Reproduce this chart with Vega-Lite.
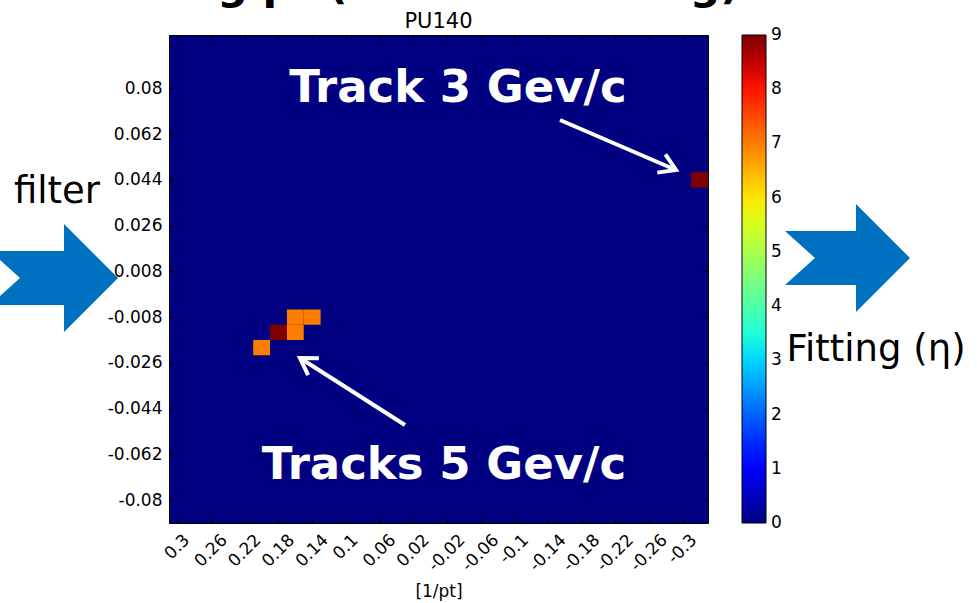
{
  "$schema": "https://vega.github.io/schema/vega-lite/v6.json",
  "width": 539,
  "height": 488,
  "autosize": {"type": "none"},
  "padding": {"left": 169, "top": 35, "right": 269, "bottom": 80},
  "background": "white",
  "view": {"fill": "#000080", "stroke": "#000000", "strokeWidth": 1},
  "config": {"font": "DejaVu Sans"},
  "datasets": {
    "cells": [
      {"invPtFrom": 0.21, "invPtTo": 0.19, "yFrom": -0.0177778, "yTo": -0.0237037, "count": 7},
      {"invPtFrom": 0.19, "invPtTo": 0.17, "yFrom": -0.0118519, "yTo": -0.0177778, "count": 9},
      {"invPtFrom": 0.17, "invPtTo": 0.15, "yFrom": -0.0118519, "yTo": -0.0177778, "count": 7},
      {"invPtFrom": 0.17, "invPtTo": 0.15, "yFrom": -0.0059259, "yTo": -0.0118519, "count": 7},
      {"invPtFrom": 0.15, "invPtTo": 0.13, "yFrom": -0.0059259, "yTo": -0.0118519, "count": 7},
      {"invPtFrom": -0.31, "invPtTo": -0.33, "yFrom": 0.0474074, "yTo": 0.0414815, "count": 9}
    ]
  },
  "layer": [
    {
      "data": {"name": "cells"},
      "mark": {"type": "rect", "strokeWidth": 0},
      "encoding": {
        "x": {"field": "invPtFrom", "type": "quantitative",
          "scale": {"domain": [-0.33, 0.31], "reverse": true, "nice": false, "zero": false},
          "axis": {"orient": "bottom", "values": [0.3, 0.26, 0.22, 0.18, 0.14, 0.1, 0.06, 0.02, -0.02, -0.06, -0.1, -0.14, -0.18, -0.22, -0.26, -0.3],
            "labelExpr": "'' + round(datum.value*100)/100",
            "labelAngle": -45, "labelAlign": "right", "labelBaseline": "middle",
            "labelOffset": {"condition": [
              {"test": "datum.value == 0.3 || datum.value == 0.1", "value": 9},
              {"test": "datum.value == -0.3 || datum.value == -0.1", "value": 11},
              {"test": "datum.value < 0", "value": 15}], "value": 13},
            "labelPadding": 19,
            "labelFont": "DejaVu Sans", "labelFontSize": 17, "labelColor": "#000000", "labelOverlap": false, "labelFlush": false, "labelBound": false,
            "tickSize": -5, "tickColor": "#000000", "tickWidth": 1, "domain": false, "grid": false,
            "title": "[1/pt]", "titleFont": "DejaVu Sans", "titleFontSize": 17, "titleFontWeight": "normal", "titleColor": "#000000",
            "titleBaseline": "alphabetic", "titleY": 73}},
        "x2": {"field": "invPtTo"},
        "y": {"field": "yFrom", "type": "quantitative",
          "scale": {"domain": [-0.0888889, 0.1007407], "nice": false, "zero": false},
          "axis": {"orient": "left", "values": [0.08, 0.0622222, 0.0444444, 0.0266667, 0.0088889, -0.0088889, -0.0266667, -0.0444444, -0.0622222, -0.08],
            "labelExpr": "'' + (datum.value < 0 ? -1 : 1) * floor(abs(datum.value)*1000 + 0.0001)/1000",
            "labelFont": "DejaVu Sans", "labelFontSize": 17, "labelColor": "#000000", "labelPadding": 12, "labelOverlap": false, "labelFlush": false,
            "tickSize": -5, "tickColor": "#000000", "domain": false, "grid": false, "title": null}},
        "y2": {"field": "yTo"},
        "color": {"field": "count", "type": "quantitative",
          "scale": {"domain": [0, 0.99, 1.125, 3.06, 3.15, 3.375, 5.76, 5.85, 5.94, 8.01, 8.19, 9],
            "range": ["#000080", "#0000ff", "#0000ff", "#00dbff", "#00e6f7", "#15ffe2", "#efff08", "#f7f500", "#ffec00", "#ff1300", "#e80000", "#800000"],
            "interpolate": "rgb"},
          "legend": {"orient": "none", "legendX": 573, "legendY": 0, "direction": "vertical", "title": null,
            "gradientLength": 488, "gradientThickness": 24, "gradientStrokeColor": "#000000", "gradientStrokeWidth": 1,
            "values": [0, 1, 2, 3, 4, 5, 6, 7, 8, 9], "labelFont": "DejaVu Sans", "labelFontSize": 17, "labelColor": "#000000",
            "labelOffset": 5, "padding": 0, "labelOverlap": false,
            "encode": {"labels": {"update": {"baseline": {"value": "middle"}}}}}}
      }
    },
    {
      "data": {"name": "cells"},
      "mark": {"type": "rect", "opacity": 0},
      "encoding": {
        "x": {"field": "invPtFrom", "type": "quantitative",
          "scale": {"domain": [-0.33, 0.31], "reverse": true, "nice": false, "zero": false},
          "axis": {"orient": "top", "values": [0.3, 0.26, 0.22, 0.18, 0.14, 0.1, 0.06, 0.02, -0.02, -0.06, -0.1, -0.14, -0.18, -0.22, -0.26, -0.3],
            "labels": false, "tickSize": -5, "tickColor": "#000000", "domain": false, "grid": false, "title": null}},
        "x2": {"field": "invPtTo"},
        "y": {"field": "yFrom", "type": "quantitative",
          "scale": {"domain": [-0.0888889, 0.1007407], "nice": false, "zero": false},
          "axis": {"orient": "right", "values": [0.08, 0.0622222, 0.0444444, 0.0266667, 0.0088889, -0.0088889, -0.0266667, -0.0444444, -0.0622222, -0.08],
            "labels": false, "tickSize": -5, "tickColor": "#000000", "domain": false, "grid": false, "title": null}},
        "y2": {"field": "yTo"}
      }
    },
    {
      "data": {"values": [{"label": "PU140"}]},
      "mark": {"type": "text", "font": "DejaVu Sans", "fontSize": 21, "color": "#000000", "align": "center", "baseline": "alphabetic"},
      "encoding": {
        "x": {"datum": -0.01, "type": "quantitative", "axis": null, "scale": {"domain": [-0.33, 0.31], "reverse": true, "nice": false, "zero": false}},
        "y": {"datum": 0.10346, "type": "quantitative", "axis": null, "scale": {"domain": [-0.0888889, 0.1007407], "nice": false, "zero": false}},
        "text": {"field": "label"}
      }
    },
    {
      "data": {"values": [{"label": "Track 3 Gev/c"}]},
      "mark": {"type": "text", "font": "DejaVu Sans", "fontWeight": "bold", "fontSize": 45, "color": "#ffffff", "align": "center", "baseline": "alphabetic"},
      "encoding": {
        "x": {"datum": -0.03315, "type": "quantitative", "axis": null, "scale": {"domain": [-0.33, 0.31], "reverse": true, "nice": false, "zero": false}},
        "y": {"datum": 0.0747, "type": "quantitative", "axis": null, "scale": {"domain": [-0.0888889, 0.1007407], "nice": false, "zero": false}},
        "text": {"field": "label"}
      }
    },
    {
      "data": {"values": [{"label": "Tracks 5 Gev/c"}]},
      "mark": {"type": "text", "font": "DejaVu Sans", "fontWeight": "bold", "fontSize": 45, "color": "#ffffff", "align": "center", "baseline": "alphabetic"},
      "encoding": {
        "x": {"datum": -0.01653, "type": "quantitative", "axis": null, "scale": {"domain": [-0.33, 0.31], "reverse": true, "nice": false, "zero": false}},
        "y": {"datum": -0.07179, "type": "quantitative", "axis": null, "scale": {"domain": [-0.0888889, 0.1007407], "nice": false, "zero": false}},
        "text": {"field": "label"}
      }
    },
    {
      "data": {"values": [{"arrow": "to track 3"}]},
      "mark": {"type": "rule", "color": "#ffffff", "strokeWidth": 4},
      "encoding": {
        "x": {"datum": -0.15427, "type": "quantitative", "axis": null, "scale": {"domain": [-0.33, 0.31], "reverse": true, "nice": false, "zero": false}},
        "y": {"datum": 0.06771, "type": "quantitative", "axis": null, "scale": {"domain": [-0.0888889, 0.1007407], "nice": false, "zero": false}},
        "x2": {"datum": -0.292},
        "y2": {"datum": 0.04828}
      }
    },
    {
      "data": {"values": [{"arrow": "to tracks 5"}]},
      "mark": {"type": "rule", "color": "#ffffff", "strokeWidth": 4},
      "encoding": {
        "x": {"datum": 0.02978, "type": "quantitative", "axis": null, "scale": {"domain": [-0.33, 0.31], "reverse": true, "nice": false, "zero": false}},
        "y": {"datum": -0.05081, "type": "quantitative", "axis": null, "scale": {"domain": [-0.0888889, 0.1007407], "nice": false, "zero": false}},
        "x2": {"datum": 0.15445},
        "y2": {"datum": -0.02477}
      }
    },
    {
      "data": {"values": [{"arrow": "head 3"}]},
      "mark": {"type": "point", "shape": "M -16 -10 L 0 0 L -16 10", "size": 4, "filled": false, "stroke": "#ffffff", "strokeWidth": 4, "opacity": 1, "angle": 24, "strokeJoin": "miter"},
      "encoding": {
        "x": {"datum": -0.292, "type": "quantitative", "axis": null, "scale": {"domain": [-0.33, 0.31], "reverse": true, "nice": false, "zero": false}},
        "y": {"datum": 0.04828, "type": "quantitative", "axis": null, "scale": {"domain": [-0.0888889, 0.1007407], "nice": false, "zero": false}}
      }
    },
    {
      "data": {"values": [{"arrow": "head 5"}]},
      "mark": {"type": "point", "shape": "M -16 -10 L 0 0 L -16 10", "size": 4, "filled": false, "stroke": "#ffffff", "strokeWidth": 4, "opacity": 1, "angle": 212.5, "strokeJoin": "miter"},
      "encoding": {
        "x": {"datum": 0.15445, "type": "quantitative", "axis": null, "scale": {"domain": [-0.33, 0.31], "reverse": true, "nice": false, "zero": false}},
        "y": {"datum": -0.02477, "type": "quantitative", "axis": null, "scale": {"domain": [-0.0888889, 0.1007407], "nice": false, "zero": false}}
      }
    },
    {
      "data": {"values": [{"label": "filter"}]},
      "mark": {"type": "text", "font": "DejaVu Sans", "fontSize": 37, "color": "#000000", "align": "center", "baseline": "alphabetic"},
      "encoding": {
        "x": {"datum": 0.44299, "type": "quantitative", "axis": null, "scale": {"domain": [-0.33, 0.31], "reverse": true, "nice": false, "zero": false}},
        "y": {"datum": 0.03546, "type": "quantitative", "axis": null, "scale": {"domain": [-0.0888889, 0.1007407], "nice": false, "zero": false}},
        "text": {"field": "label"}
      }
    },
    {
      "data": {"values": [{"label": "Fitting (η)"}]},
      "mark": {"type": "text", "font": "DejaVu Sans", "fontSize": 37, "color": "#000000", "align": "center", "baseline": "alphabetic"},
      "encoding": {
        "x": {"datum": -0.52948, "type": "quantitative", "axis": null, "scale": {"domain": [-0.33, 0.31], "reverse": true, "nice": false, "zero": false}},
        "y": {"datum": -0.02594, "type": "quantitative", "axis": null, "scale": {"domain": [-0.0888889, 0.1007407], "nice": false, "zero": false}},
        "text": {"field": "label"}
      }
    },
    {
      "data": {"values": [{"arrow": "filter"}]},
      "mark": {"type": "point", "shape": "M -70 -27 L 4 -27 L 4 -54 L 58 0 L 4 54 L 4 27 L -70 27 L -40 0 Z", "size": 4, "filled": true, "fill": "#0070c0", "opacity": 1, "strokeWidth": 0},
      "encoding": {
        "x": {"datum": 0.43942, "type": "quantitative", "axis": null, "scale": {"domain": [-0.33, 0.31], "reverse": true, "nice": false, "zero": false}},
        "y": {"datum": 0.006314, "type": "quantitative", "axis": null, "scale": {"domain": [-0.0888889, 0.1007407], "nice": false, "zero": false}}
      }
    },
    {
      "data": {"values": [{"arrow": "fitting"}]},
      "mark": {"type": "point", "shape": "M -67 -27 L 4 -27 L 4 -54 L 58 0 L 4 54 L 4 27 L -67 27 L -37 0 Z", "size": 4, "filled": true, "fill": "#0070c0", "opacity": 1, "strokeWidth": 0},
      "encoding": {
        "x": {"datum": -0.50097, "type": "quantitative", "axis": null, "scale": {"domain": [-0.33, 0.31], "reverse": true, "nice": false, "zero": false}},
        "y": {"datum": 0.014085, "type": "quantitative", "axis": null, "scale": {"domain": [-0.0888889, 0.1007407], "nice": false, "zero": false}}
      }
    },
    {
      "data": {"values": [{"label": "Binning pt (after clustering)"}]},
      "mark": {"type": "text", "font": "DejaVu Sans", "fontWeight": "bold", "fontSize": 42.5, "color": "#000000", "align": "left", "baseline": "alphabetic"},
      "encoding": {
        "x": {"datum": 0.43349, "type": "quantitative", "axis": null, "scale": {"domain": [-0.33, 0.31], "reverse": true, "nice": false, "zero": false}},
        "y": {"datum": 0.11492, "type": "quantitative", "axis": null, "scale": {"domain": [-0.0888889, 0.1007407], "nice": false, "zero": false}},
        "text": {"field": "label"}
      }
    }
  ],
  "resolve": {"axis": {"x": "independent", "y": "independent"}}
}
